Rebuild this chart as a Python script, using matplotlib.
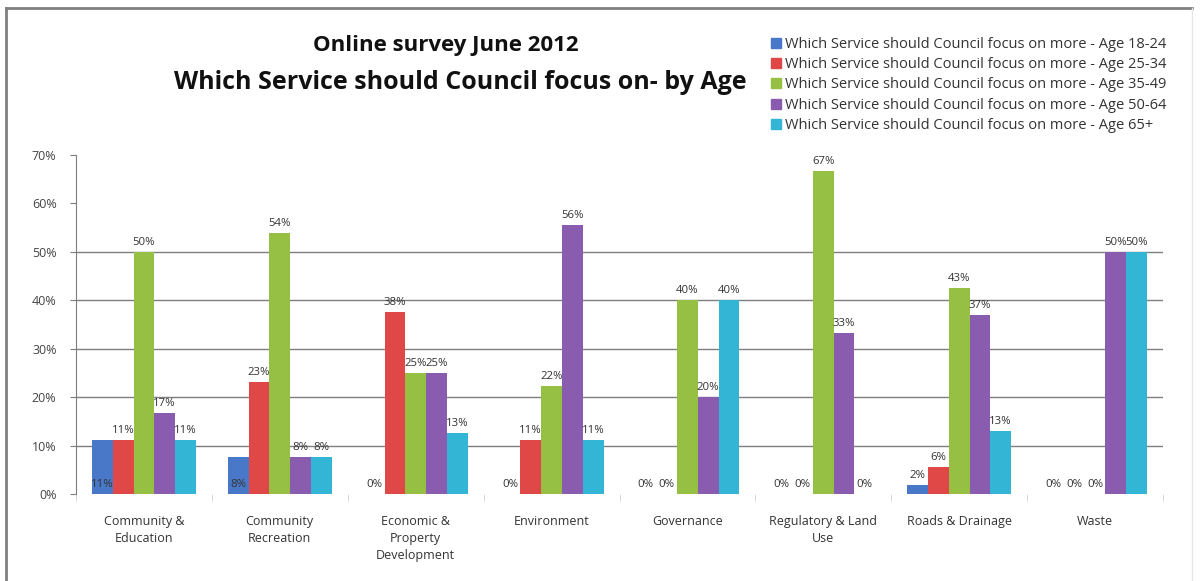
import matplotlib
matplotlib.use("Agg")
import matplotlib.pyplot as plt
from matplotlib.lines import Line2D
import numpy as np

# Survey results: share of respondents per service, split by age group
categories = [
    "Community &\nEducation",
    "Community\nRecreation",
    "Economic &\nProperty\nDevelopment",
    "Environment",
    "Governance",
    "Regulatory & Land\nUse",
    "Roads & Drainage",
    "Waste",
]
series_names = [
    "Which Service should Council focus on more - Age 18-24",
    "Which Service should Council focus on more - Age 25-34",
    "Which Service should Council focus on more - Age 35-49",
    "Which Service should Council focus on more - Age 50-64",
    "Which Service should Council focus on more - Age 65+",
]
age_18_24 = [0.111, 0.077, 0.0, 0.0, 0.0, 0.0, 0.0185, 0.0]
age_25_34 = [0.111, 0.231, 0.375, 0.111, 0.0, 0.0, 0.0556, 0.0]
age_35_49 = [0.50, 0.538, 0.25, 0.222, 0.40, 0.667, 0.426, 0.0]
age_50_64 = [0.167, 0.077, 0.25, 0.556, 0.20, 0.333, 0.370, 0.50]
age_65_plus = [0.111, 0.077, 0.126, 0.111, 0.40, 0.0, 0.130, 0.50]
y_ticks = [0.0, 0.1, 0.2, 0.3, 0.4, 0.5, 0.6, 0.7]
grid_levels = [0.1, 0.2, 0.3, 0.4, 0.5]

series = [age_18_24, age_25_34, age_35_49, age_50_64, age_65_plus]
colors = ["#4A78C8", "#E04848", "#95C044", "#8A5CB0", "#33B5D5"]
# labels that sit at the foot of the bar instead of on top
label_at_base = {(0, 0), (0, 1)}

W, H = 1203, 581
fig = plt.figure(figsize=(W / 100, H / 100), dpi=100)
fig.patch.set_facecolor("white")

ax = fig.add_axes([76 / W, 1 - 494 / H, (1163 - 76) / W, (494 - 155) / H])

x = np.arange(len(categories))
bar_w = 0.153
for i, (vals, color) in enumerate(zip(series, colors)):
    pos = x + (i - 2) * bar_w
    ax.bar(pos, vals, width=bar_w, color=color, edgecolor="none", zorder=3)
    for j, (px, v) in enumerate(zip(pos, vals)):
        y = 0 if (i, j) in label_at_base else v
        ax.annotate(f"{v:.0%}", (px, y), xytext=(0, 3), textcoords="offset points",
                    ha="center", va="bottom", fontsize=8.2, color="#333333",
                    family="Open Sans", zorder=4)

ax.set_xlim(-0.5, len(categories) - 0.5)
ax.set_ylim(0, 0.7)
ax.set_yticks(y_ticks)
ax.set_yticklabels([f"{t:.0%}" for t in y_ticks], fontsize=9, color="#444444",
                   family="Open Sans")
ax.hlines(grid_levels, -0.5, len(categories) - 0.5, colors="#7f7f7f",
          linewidth=1, zorder=1)

ax.set_xticks(x)
ax.set_xticklabels(categories, fontsize=9, color="#333333", family="Open Sans",
                   linespacing=1.4)
ax.set_xticks(np.arange(len(categories) + 1) - 0.5, minor=True)
ax.tick_params(axis="x", which="major", length=0, pad=15)
ax.tick_params(axis="x", which="minor", length=5, color="#d0d0d0")
ax.tick_params(axis="y", length=4, color="#7f7f7f", pad=10)

for side in ["top", "right", "bottom"]:
    ax.spines[side].set_visible(False)
ax.spines["left"].set_color("#7f7f7f")
ax.set_facecolor("none")

# Two-line bold title
fig.text(446 / W, 1 - 46 / H, "Online survey June 2012", ha="center", va="center",
         fontsize=16, fontweight="bold", family="Open Sans", color="#111111")
fig.text(460 / W, 1 - 83 / H, "Which Service should Council focus on- by Age",
         ha="center", va="center", fontsize=18, fontweight="bold",
         family="Open Sans", color="#111111")

handles = [Line2D([], [], marker="s", linestyle="none", markersize=7,
                  markerfacecolor=c, markeredgecolor=c) for c in colors]
leg = fig.legend(handles, series_names, loc="upper left",
                 bbox_to_anchor=(772 / W, 1 - 37 / H), frameon=False,
                 prop={"family": "Open Sans", "size": 10.5},
                 handlelength=0.6, handletextpad=0.3, labelspacing=0.36,
                 borderpad=0, borderaxespad=0)
for t in leg.get_texts():
    t.set_color("#333333")

# Outer frame of the chart area
fig.add_artist(Line2D([6 / W, 6 / W], [0, 1 - 8 / H], transform=fig.transFigure,
                      color="#808080", linewidth=2))
fig.add_artist(Line2D([6 / W, 1192 / W], [1 - 8 / H, 1 - 8 / H],
                      transform=fig.transFigure, color="#808080", linewidth=2))
fig.add_artist(Line2D([1192 / W, 1192 / W], [0, 1 - 8 / H],
                      transform=fig.transFigure, color="#e6e6e6", linewidth=1))

fig.savefig("out.png", dpi=100)
